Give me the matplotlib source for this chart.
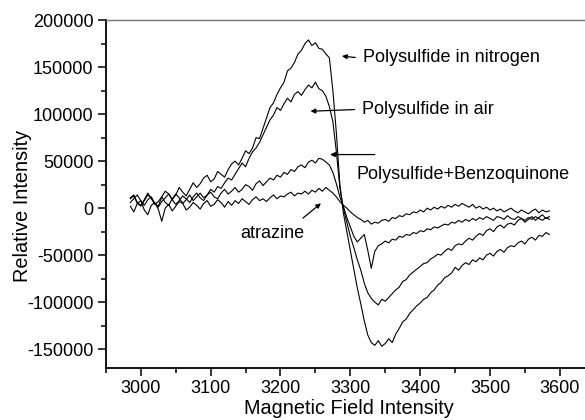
import matplotlib
matplotlib.use("Agg")
import matplotlib.pyplot as plt
from matplotlib.ticker import MultipleLocator
import numpy as np

plt.rcParams['font.family'] = ['Liberation Sans', 'DejaVu Sans']
plt.rcParams['axes.unicode_minus'] = False

# magnetic field sweep (G), one reading every 5 G
field = [2985, 2990, 2995, 3000, 3005, 3010, 3015, 3020, 3025, 3030,
         3035, 3040, 3045, 3050, 3055, 3060, 3065, 3070, 3075, 3080,
         3085, 3090, 3095, 3100, 3105, 3110, 3115, 3120, 3125, 3130,
         3135, 3140, 3145, 3150, 3155, 3160, 3165, 3170, 3175, 3180,
         3185, 3190, 3195, 3200, 3205, 3210, 3215, 3220, 3225, 3230,
         3235, 3240, 3245, 3250, 3255, 3260, 3265, 3270, 3275, 3280,
         3285, 3290, 3295, 3300, 3305, 3310, 3315, 3320, 3325, 3330,
         3335, 3340, 3345, 3350, 3355, 3360, 3365, 3370, 3375, 3380,
         3385, 3390, 3395, 3400, 3405, 3410, 3415, 3420, 3425, 3430,
         3435, 3440, 3445, 3450, 3455, 3460, 3465, 3470, 3475, 3480,
         3485, 3490, 3495, 3500, 3505, 3510, 3515, 3520, 3525, 3530,
         3535, 3540, 3545, 3550, 3555, 3560, 3565, 3570, 3575, 3580, 3585]

# intensities, in thousands
nitrogen = [11, 14, 6, 3, 9, 16, 10, 5, 2, 12,
            18, 15, 9, 14, 22, 17, 13, 20, 27, 22,
            26, 32, 35, 28, 31, 39, 36, 33, 41, 47,
            50, 46, 53, 61, 58, 64, 75, 74, 85, 96,
            107, 112, 121, 128, 134, 146, 149, 155, 164, 168,
            175, 179, 173, 176, 170, 169, 164, 160, 125, 80,
            25, -5, -25, -45, -65, -85, -102, -120, -135, -143,
            -146, -141, -147, -144, -139, -143, -134, -128, -121, -118,
            -112, -108, -104, -101, -97, -95, -90, -87, -82, -79,
            -74, -72, -69, -63, -66, -61, -58, -60, -55, -57,
            -53, -55, -50, -48, -51, -46, -44, -47, -42, -40,
            -41, -37, -35, -38, -33, -31, -34, -29, -30, -26, -28]

air = [10, 13, 5, 2, 8, 14, 11, 4, 7, 12,
       6, 3, 10, 15, 11, 5, 9, 14, 8, 12,
       16, 11, 14, 20, 17, 23, 21, 27, 32, 30,
       36, 42, 48, 44, 53, 60, 64, 70, 78, 86,
       94, 99, 107, 104, 111, 117, 113, 121, 124, 120,
       126, 131, 128, 134, 127, 125, 119, 108, 92, 60,
       22, 0, -15, -30, -42, -55, -66, -80, -90, -96,
       -100, -103, -97, -99, -95, -91, -87, -84, -78, -76,
       -71, -68, -65, -62, -59, -58, -54, -52, -49, -50,
       -46, -43, -45, -40, -38, -39, -35, -32, -34, -30,
       -27, -29, -24, -22, -25, -20, -18, -21, -17, -16,
       -18, -13, -11, -15, -12, -9, -13, -10, -7, -11, -9]

benzoquinone = [6, 10, 14, 8, 3, 9, 12, 5, 1, 7,
                11, 15, 9, 4, 8, 13, 10, 6, 12, 16,
                11, 8, 14, 17, 12, 10, 16, 20, 15, 18,
                22, 17, 20, 25, 23, 19, 26, 29, 24, 28,
                32, 30, 35, 33, 38, 36, 41, 39, 44, 46,
                43, 49, 51, 48, 53, 52, 49, 46, 38, 26,
                12, 2, -10, -20, -30, -36, -32, -28, -45, -64,
                -46, -40, -38, -35, -37, -33, -34, -30, -31, -28,
                -29, -26, -27, -24, -25, -22, -23, -20, -21, -19,
                -17, -18, -15, -16, -13, -15, -12, -14, -11, -13,
                -10, -12, -9, -11, -13, -9, -10, -12, -8, -11,
                -12, -9, -11, -13, -10, -12, -9, -11, -13, -10, -12]

atrazine = [2, -4, 5, 8, -2, -7, 3, 6, -1, -14,
            0, 4, -3, 2, 7, 5, -2, 1, 6, 3,
            -1, 5, 8, 2, 4, 9, 6, 1, 7, 3,
            8, 5, 10, 7, 4, 9, 12, 8, 10, 7,
            11, 14, 10, 13, 12, 15, 17, 13, 16, 15,
            18, 15, 19, 17, 21, 18, 22, 19, 16, 12,
            7, 3, 0, -4, -7, -10, -12, -15, -13, -17,
            -15, -16, -13, -12, -14, -10, -11, -8, -9, -6,
            -7, -4, -5, -2, -4, 0, -2, 1, -1, 2,
            0, 3, 1, 4, 2, 5, 3, 1, 4, 0,
            2, -1, 1, -2, 0, -3, -1, -4, -2, 0,
            -3, -5, -2, -4, -6, -3, -1, -5, -2, -4, -3]

fig = plt.figure(figsize=(5.85, 4.2), dpi=100)
ax = fig.add_axes([0.181, 0.124, 0.819, 0.828])

for series in [nitrogen, air, benzoquinone, atrazine]:
    ax.plot(field, np.array(series) * 1000, color="black", lw=0.8)

ax.set_xlim(2950, 3636)
ax.set_ylim(-170000, 200000)
ax.xaxis.set_major_locator(MultipleLocator(100))
ax.xaxis.set_minor_locator(MultipleLocator(50))
ax.yaxis.set_major_locator(MultipleLocator(50000))
ax.yaxis.set_minor_locator(MultipleLocator(25000))
ax.tick_params(which="major", direction="out", length=6, width=1.1, labelsize=13, pad=3)
ax.tick_params(which="minor", direction="out", length=3.5, width=1.1)
ax.tick_params(top=False, right=False)

ax.spines["left"].set_linewidth(1.3)
ax.spines["bottom"].set_linewidth(1.3)
ax.spines["top"].set_color("#777777")
ax.spines["top"].set_linewidth(1.0)
ax.spines["right"].set_visible(False)

ax.set_xlabel("Magnetic Field Intensity", fontsize=14.3)
ax.set_ylabel("Relative Intensity", fontsize=14.3)
ax.xaxis.set_label_coords(0.507, -0.090)
ax.yaxis.set_label_coords(-0.155, 0.466)

arrow = dict(arrowstyle="-|>", color="black", lw=0.9, mutation_scale=7)
ax.annotate("", xy=(3284, 162000), xytext=(3311, 160000), arrowprops=arrow)
ax.text(3318, 160000, "Polysulfide in nitrogen", fontsize=13, va="center")

ax.annotate("", xy=(3239, 103000), xytext=(3310, 105000), arrowprops=arrow)
ax.text(3317, 105000, "Polysulfide in air", fontsize=13, va="center")

ax.annotate("", xy=(3267, 57000), xytext=(3339, 57000), arrowprops=arrow)
ax.text(3309, 36000, "Polysulfide+Benzoquinone", fontsize=13, va="center")

ax.annotate("", xy=(3261, 7000), xytext=(3229, -12500), arrowprops=arrow)
ax.text(3143, -27000, "atrazine", fontsize=13, va="center")

fig.savefig("out.png", dpi=100)
